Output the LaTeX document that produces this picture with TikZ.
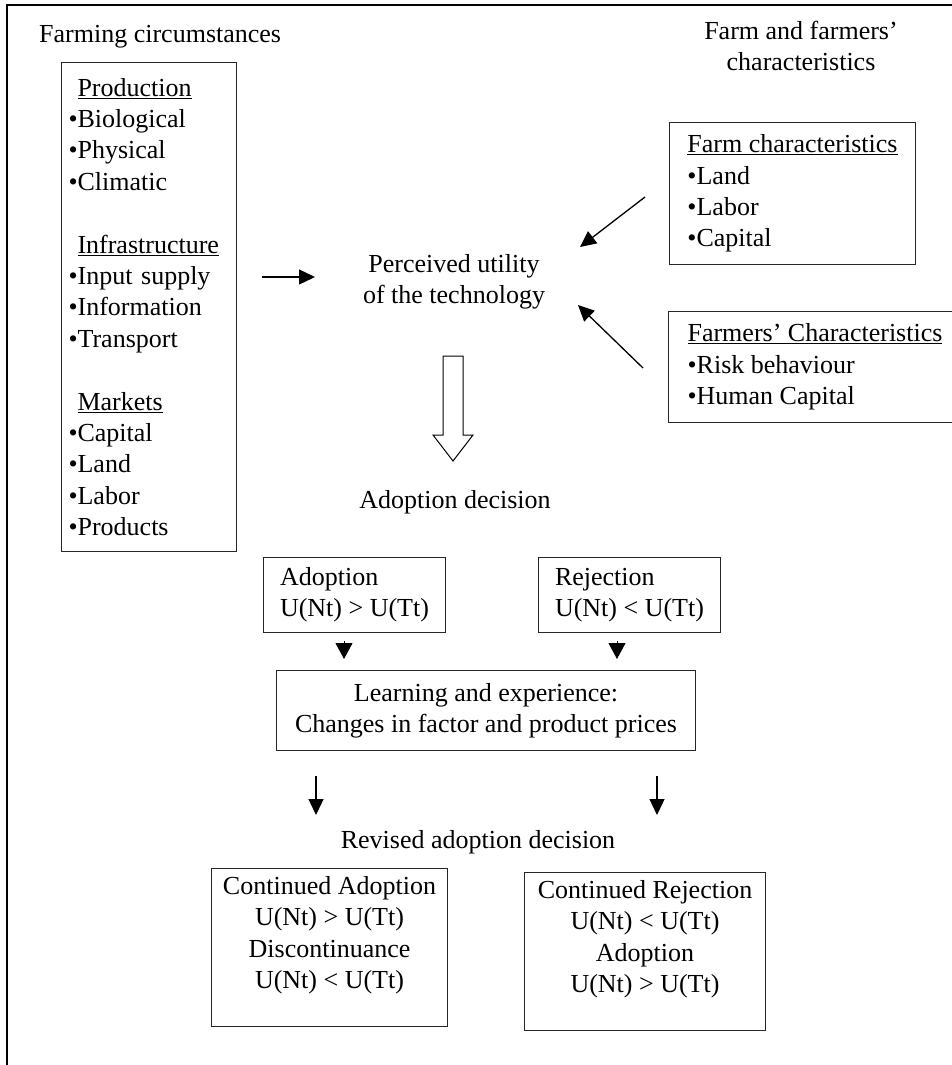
\documentclass[tikz,border=0pt]{standalone}
\usepackage{fontspec}
\setmainfont{Liberation Serif}
\usetikzlibrary{arrows.meta}
\begin{document}
\begin{tikzpicture}[x=1pt,y=-1pt,
  every node/.style={font=\fontsize{26}{31.4}\selectfont, inner sep=0pt},
  boxl/.style={draw=black!85, line width=1pt, align=left, anchor=north west},
  boxc/.style={draw=black!85, line width=1pt, align=center, anchor=north west},
  frame/.style={draw=black!85, line width=1pt, anchor=north west},
  arr/.style={line width=1.3pt, -{Triangle[length=16pt,width=15pt]}},
  tri/.style={line width=1pt, -{Triangle[length=16pt,width=17pt]}},
]
\useasboundingbox (0,0) rectangle (952,1065);
% outer frame
\draw[line width=2.5pt] (7,1070) -- (7,5) -- (960,5);

% headings
\node[anchor=base west] (hl) at (39,43) {Farming circumstances};
\node[align=center, anchor=north] (hr) at (801,21) {Farm and farmers’\\characteristics};

% left box
\node[boxl, text width=161pt, inner xsep=7pt, minimum height=489pt] (lb) at (61,62)
  {\hspace*{9pt}\underline{Production}\\
   •Biological\\ •Physical\\ •Climatic\\[31.4pt]
   \hspace*{9pt}\underline{Infrastructure}\\
   •Input supply\\ •Information\\ •Transport\\[31.4pt]
   \hspace*{9pt}\underline{Markets}\\
   •Capital\\ •Land\\ •Labor\\ •Products};

% right boxes
\node[boxl, minimum width=246pt, minimum height=142pt] (fc) at (669,122)
  {\underline{Farm characteristics}\\ •Land\\ •Labor\\ •Capital};
\node[boxl, minimum width=293pt, minimum height=111pt] (fr) at (668,311)
  {\underline{Farmers’ Characteristics}\\ •Risk behaviour\\ •Human Capital};

% centre
\node[align=center, anchor=north] (pu) at (454,254) {Perceived utility\\of the technology};
\node[anchor=base] (ad) at (455,508) {Adoption decision};

\coordinate (a1s) at (262,277); \coordinate (a1e) at (315,277);
\draw[arr] (a1s) -- (a1e);
\coordinate (a2s) at (645,197); \coordinate (a2e) at (580,247);
\draw[arr] (a2s) -- (a2e);
\coordinate (a3s) at (643,368); \coordinate (a3e) at (578,305);
\draw[arr] (a3s) -- (a3e);

% hollow arrow
\draw[line width=1pt, fill=white] (443,356) -- (463,356) -- (463,435) -- (473,435)
  -- (453,461) -- (433,435) -- (443,435) -- cycle;

% adoption / rejection
\node[boxl, minimum width=182pt, minimum height=75pt] (ab) at (263,557)
  {Adoption\\ U(Nt) > U(Tt)};
\node[boxl, minimum width=182pt, minimum height=75pt] (rb) at (538,557)
  {Rejection\\ U(Nt) < U(Tt)};

\node[boxc, minimum width=419pt, minimum height=80pt] (lr) at (276,670)
  {Learning and experience:\\ Changes in factor and product prices};

\coordinate (t1s) at (344,641); \coordinate (t1e) at (344,659);
\draw[tri] (t1s) -- (t1e);
\coordinate (t2s) at (617,641); \coordinate (t2e) at (617,659);
\draw[tri] (t2s) -- (t2e);

\coordinate (d1s) at (316,776); \coordinate (d1e) at (316,815);
\draw[arr] (d1s) -- (d1e);
\coordinate (d2s) at (657,776); \coordinate (d2e) at (657,815);
\draw[arr] (d2s) -- (d2e);

\node[anchor=base] (rv) at (478,848) {Revised adoption decision};

% bottom boxes (text sits near the top of each box)
\node[frame, minimum width=236pt, minimum height=158pt] (ca) at (211,868) {};
\node[align=center, anchor=north] (cat) at ([yshift=-8pt]ca.north)
  {Continued Adoption\\ U(Nt) > U(Tt)\\ Discontinuance\\ U(Nt) < U(Tt)};
\node[frame, minimum width=241pt, minimum height=158pt] (cr) at (524,872) {};
\node[align=center, anchor=north] (crt) at ([yshift=-8pt]cr.north)
  {Continued Rejection\\ U(Nt) < U(Tt)\\ Adoption\\ U(Nt) > U(Tt)};
\end{tikzpicture}
\end{document}
